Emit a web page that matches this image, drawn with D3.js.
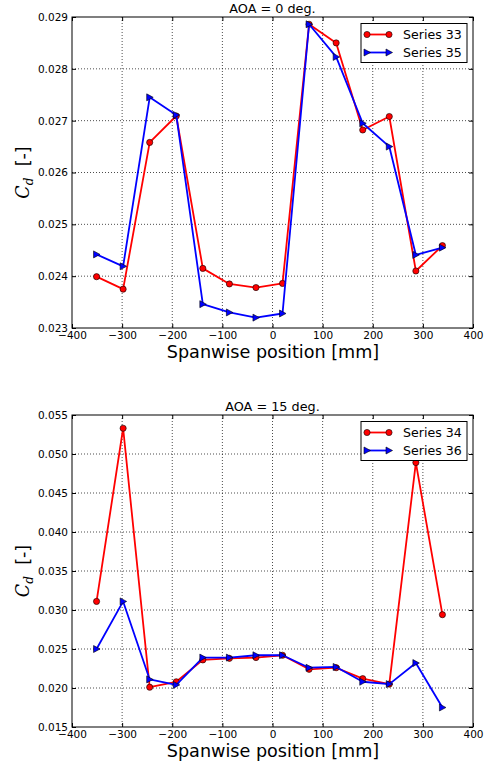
<!DOCTYPE html>
<html>
<head>
<meta charset="utf-8">
<script src="https://cdnjs.cloudflare.com/ajax/libs/d3/7.8.5/d3.min.js"></script>
<style>
  body { margin: 0; background: #fff; }
  text { font-family: "DejaVu Sans", sans-serif; fill: #000; }
</style>
</head>
<body>
<div class="wrapper"></div>
<script>

// spanwise stations [mm]
var positions = [-351, -298, -245, -192, -139, -86, -33, 20, 73, 127, 180, 233, 286, 339];

// AOA = 0 deg.
var series33 = [0.02399, 0.02375, 0.02658, 0.02709, 0.02415, 0.02385, 0.02378, 0.02386, 0.02886, 0.02850, 0.02682, 0.02708, 0.02410, 0.02459];
var series35 = [0.02442, 0.02419, 0.02745, 0.02711, 0.02346, 0.02330, 0.02320, 0.02328, 0.02886, 0.02823, 0.02695, 0.02650, 0.02441, 0.02455];

// AOA = 15 deg.
var series34 = [0.0311, 0.0533, 0.0201, 0.0208, 0.0236, 0.0238, 0.0239, 0.0242, 0.0224, 0.0226, 0.0212, 0.0205, 0.0489, 0.0294];
var series36 = [0.0250, 0.0311, 0.0211, 0.0204, 0.0239, 0.0239, 0.0242, 0.0242, 0.0226, 0.0227, 0.0208, 0.0205, 0.0232, 0.0175];

var xTicks = [-400, -300, -200, -100, 0, 100, 200, 300, 400];
var yTicksTop = [0.023, 0.024, 0.025, 0.026, 0.027, 0.028, 0.029];
var yTicksBottom = [0.015, 0.020, 0.025, 0.030, 0.035, 0.040, 0.045, 0.050, 0.055];

var svg = d3.select(".wrapper")
	.append("svg")
		.attr("width", 486)
		.attr("height", 764);

function fmtX(d) {
	return d < 0 ? "\u2212" + Math.abs(d) : String(d);
}

function drawPanel(cfg) {
	var L = 72, R = 473;
	var x = d3.scaleLinear().domain([-400, 400]).range([L, R]);
	var y = d3.scaleLinear().domain(cfg.yDomain).range([cfg.bottom, cfg.top]);

	var g = svg.append("g");

	// grid
	g.selectAll(".vgrid")
		.data(xTicks.slice(1, -1))
		.enter()
		.append("line")
		.attr("x1", function(d) { return x(d); })
		.attr("x2", function(d) { return x(d); })
		.attr("y1", cfg.top)
		.attr("y2", cfg.bottom)
		.attr("stroke", "#000")
		.attr("stroke-width", 0.7)
		.attr("stroke-dasharray", "1,2");

	g.selectAll(".hgrid")
		.data(cfg.yTicks.slice(1, -1))
		.enter()
		.append("line")
		.attr("x1", L)
		.attr("x2", R)
		.attr("y1", function(d) { return y(d); })
		.attr("y2", function(d) { return y(d); })
		.attr("stroke", "#000")
		.attr("stroke-width", 0.7)
		.attr("stroke-dasharray", "1,2");

	// axes, ticks pointing inward on all four sides
	var axB = g.append("g").attr("transform", "translate(0," + cfg.bottom + ")")
		.call(d3.axisBottom(x).tickValues(xTicks).tickSizeInner(-4).tickSizeOuter(0).tickPadding(4).tickFormat(fmtX));
	var axT = g.append("g").attr("transform", "translate(0," + cfg.top + ")")
		.call(d3.axisTop(x).tickValues(xTicks).tickSizeInner(-4).tickSizeOuter(0).tickFormat(""));
	var axL = g.append("g").attr("transform", "translate(" + L + ",0)")
		.call(d3.axisLeft(y).tickValues(cfg.yTicks).tickSizeInner(-4).tickSizeOuter(0).tickPadding(4).tickFormat(d3.format(".3f")));
	var axR = g.append("g").attr("transform", "translate(" + R + ",0)")
		.call(d3.axisRight(y).tickValues(cfg.yTicks).tickSizeInner(-4).tickSizeOuter(0).tickFormat(""));

	[axB, axT, axL, axR].forEach(function(a) {
		a.select(".domain").remove();
		a.selectAll("line").attr("stroke", "#000");
		a.selectAll("text").style("font-family", "DejaVu Sans").style("font-size", "10.5px").attr("fill", "#000");
	});

	g.append("rect")
		.attr("x", L).attr("y", cfg.top)
		.attr("width", R - L).attr("height", cfg.bottom - cfg.top)
		.attr("fill", "none").attr("stroke", "#000").attr("stroke-width", 1);

	// series lines + markers
	var line = d3.line()
		.x(function(d) { return x(d[0]); })
		.y(function(d) { return y(d[1]); });

	cfg.series.forEach(function(s) {
		var pts = positions.map(function(p, i) { return [p, s.values[i]]; });
		g.append("path")
			.datum(pts)
			.attr("d", line)
			.attr("fill", "none")
			.attr("stroke", s.color)
			.attr("stroke-width", 1.8)
			.attr("stroke-linejoin", "round");
		drawMarkers(g, pts.map(function(d) { return [x(d[0]), y(d[1])]; }), s);
	});

	// title
	g.append("text")
		.attr("x", (L + R) / 2)
		.attr("y", cfg.top - 4.5)
		.attr("text-anchor", "middle")
		.style("font-size", "12.8px")
		.text(cfg.title);

	// x label
	g.append("text")
		.attr("x", (L + R) / 2 + 0.5)
		.attr("y", cfg.bottom + 29.5)
		.attr("text-anchor", "middle")
		.style("font-size", "17.6px")
		.text("Spanwise position [mm]");

	// y label: C_d [-]
	var yl = g.append("text")
		.attr("transform", "translate(29," + ((cfg.top + cfg.bottom) / 2) + ") rotate(-90)")
		.attr("text-anchor", "middle")
		.style("font-size", "17.6px");
	yl.append("tspan").style("font-family", "DejaVu Serif").style("font-style", "italic").text("C");
	yl.append("tspan").attr("dy", 4).style("font-family", "DejaVu Serif").style("font-style", "italic").style("font-size", "12px").text("d");
	yl.append("tspan").attr("dy", -4).text("\u00a0 [-]");

	// legend
	var lx = 361, ly = cfg.top + 6.5, lw = 106, lh = 39;
	g.append("rect")
		.attr("x", lx).attr("y", ly).attr("width", lw).attr("height", lh)
		.attr("fill", "#fff").attr("stroke", "#000").attr("stroke-width", 1);
	cfg.series.forEach(function(s, i) {
		var cy = ly + 11 + i * 18;
		g.append("line")
			.attr("x1", lx + 6).attr("x2", lx + 28)
			.attr("y1", cy).attr("y2", cy)
			.attr("stroke", s.color).attr("stroke-width", 1.8);
		drawMarkers(g, [[lx + 6, cy], [lx + 28, cy]], s);
		g.append("text")
			.attr("x", lx + 42)
			.attr("y", cy + 4.5)
			.style("font-size", "12.6px")
			.text(s.name);
	});
}

function drawMarkers(g, pts, s) {
	if (s.marker === "circle") {
		g.selectAll(null)
			.data(pts)
			.enter()
			.append("circle")
			.attr("cx", function(d) { return d[0]; })
			.attr("cy", function(d) { return d[1]; })
			.attr("r", 3.1)
			.attr("fill", s.color)
			.attr("stroke", "#000")
			.attr("stroke-width", 0.6);
	} else {
		g.selectAll(null)
			.data(pts)
			.enter()
			.append("path")
			.attr("d", function(d) {
				return "M" + (d[0] + 3.5) + "," + d[1] + "L" + (d[0] - 3) + "," + (d[1] - 3.5) + "L" + (d[0] - 3) + "," + (d[1] + 3.5) + "Z";
			})
			.attr("fill", s.color)
			.attr("stroke", "#000")
			.attr("stroke-width", 0.6);
	}
}

drawPanel({
	top: 17, bottom: 328,
	yDomain: [0.023, 0.029],
	yTicks: yTicksTop,
	title: "AOA = 0 deg.",
	series: [
		{name: "Series 33", values: series33, color: "#ff0000", marker: "circle"},
		{name: "Series 35", values: series35, color: "#0000ff", marker: "triangle"}
	]
});

drawPanel({
	top: 415, bottom: 727,
	yDomain: [0.015, 0.055],
	yTicks: yTicksBottom,
	title: "AOA = 15 deg.",
	series: [
		{name: "Series 34", values: series34, color: "#ff0000", marker: "circle"},
		{name: "Series 36", values: series36, color: "#0000ff", marker: "triangle"}
	]
});

</script>
</body>
</html>
